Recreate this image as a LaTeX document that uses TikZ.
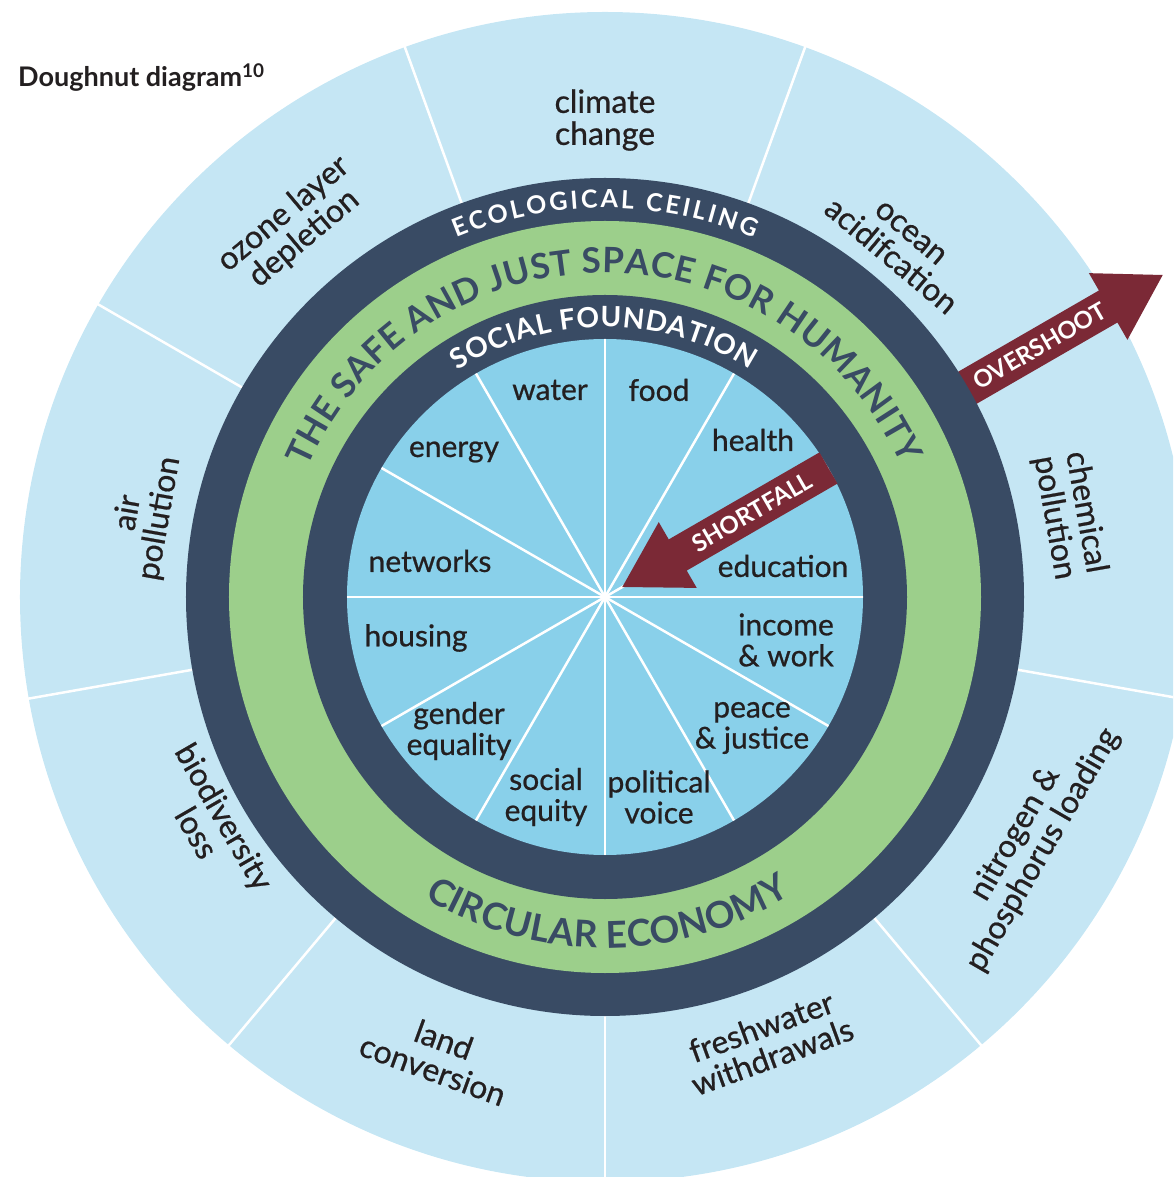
\documentclass[tikz,border=0pt]{standalone}
\usepackage{fontspec}
\setmainfont{Lato}
\newfontfamily\medfont[FakeBold=0.7]{Lato}
\usetikzlibrary{decorations.text}

\definecolor{outerblue}{HTML}{C5E6F4}
\definecolor{innerblue}{HTML}{89D0EA}
\definecolor{navy}{HTML}{394B64}
\definecolor{safegreen}{HTML}{9CCF8B}
\definecolor{arrowred}{HTML}{7B2936}
\definecolor{labelgray}{HTML}{231F20}

\newcommand{\ringfont}[1]{\bfseries\fontsize{#1}{#1}\selectfont}

\begin{document}
\begin{tikzpicture}[
    x=1pt, y=1pt,
    need label/.style={text=labelgray, align=center, inner sep=0pt,
                       font=\medfont\fontsize{30}{31}\selectfont},
    bound label/.style={need label, font=\medfont\fontsize{32}{32}\selectfont},
    arrow text/.style={text=white, inner sep=0pt, font=\ringfont{24}},
    divider/.style={white, line width=2.5pt},
    spoke/.style={white, line width=2.5pt},
    big arrow/.style={fill=arrowred},
    title/.style={text=labelgray, inner sep=0pt, font=\ringfont{27}}]

\useasboundingbox (-605,-580) rectangle (568,597);
\clip (-605,-580) rectangle (568,597);

% ecological ceiling segments
\fill[outerblue] (0,0) circle[radius=585pt];
\foreach \a in {270,310,...,590}
    \draw[divider] (\a:419) -- (\a:590);

% overshoot arrow
\fill[big arrow, rotate=30] (400,18.5) -- (581,18.5) -- (581,38.5) -- (644,0)
    -- (581,-38.5) -- (581,-18.5) -- (400,-18.5) -- cycle;

% rings
\fill[navy] (0,0) circle[radius=419pt];
\fill[safegreen] (0,0) circle[radius=376pt];
\fill[navy] (0,0) circle[radius=302pt];
\fill[innerblue] (0,0) circle[radius=258pt];
\foreach \a in {0,30,...,330}
    \draw[spoke] (0,0) -- (\a:258);

% shortfall arrow
\fill[big arrow, rotate=30] (258,18) -- (84,18) -- (84,38) -- (20,0)
    -- (84,-38) -- (84,-18) -- (258,-18) -- cycle;

% texts along the rings
\path[decorate, decoration={text along path, text color=white,
    text align={fit to path}, text={|\ringfont{25}|ECOLOGICAL CEILING}}]
    (112.5:389) arc[start angle=112.5, end angle=67.5, radius=389pt];
\path[decorate, decoration={text along path, text color=navy,
    text align={fit to path}, text={|\ringfont{35}|THE SAFE AND JUST SPACE FOR HUMANITY}}]
    (156.5:324) arc[start angle=156.5, end angle=24, radius=324pt];
\path[decorate, decoration={text along path, text color=white,
    text align={fit to path}, text={|\ringfont{28}|SOCIAL FOUNDATION}}]
    (123:270) arc[start angle=123, end angle=57.5, radius=270pt];
\path[decorate, decoration={text along path, text color=navy,
    text align={fit to path}, text={|\ringfont{37}|CIRCULAR ECONOMY}}]
    (239:351) arc[start angle=239, end angle=302, radius=351pt];

% planetary boundaries
\foreach \a/\r/\rot/\txt [count=\i] in {
    90/477/0/{climate\\change},
    50/459/-40/{ocean\\acidifcation},
    10/472/-80/{chemical\\pollution},
    -30/490/60/{nitrogen \&\\phosphorus loading},
    -70/473/20/{freshwater\\withdrawals},
    -110/487/-20/{land\\conversion},
    -150/455/-60/{biodiversity\\loss},
    170/468/80/{air\\pollution},
    130/484/40/{ozone layer\\depletion}}
    \node[bound label, rotate=\rot] (pb\i) at (\a:\r) {\txt};

% social foundation
\foreach \x/\y/\txt [count=\i] in {
    -55/207/water, 54/207/food, 148/157/health, 178/31/education,
    181/-43/{income\\\& work}, 147/-131/{peace\\\& justice},
    54/-200/{political\\voice}, -59/-200/{social\\equity},
    -146/-134/{gender\\equality}, -189/-41/housing,
    -175/36/networks, -151/145/energy}
    \node[need label] (sf\i) at (\x,\y) {\txt};

\node[arrow text, rotate=30] (over) at (30:502) {OVERSHOOT};
\node[arrow text, rotate=30] (short) at (30:170) {SHORTFALL};

\node[title, anchor=base west] (head) at (-587,510) {Doughnut diagram\textsuperscript{10}};

\end{tikzpicture}
\end{document}
